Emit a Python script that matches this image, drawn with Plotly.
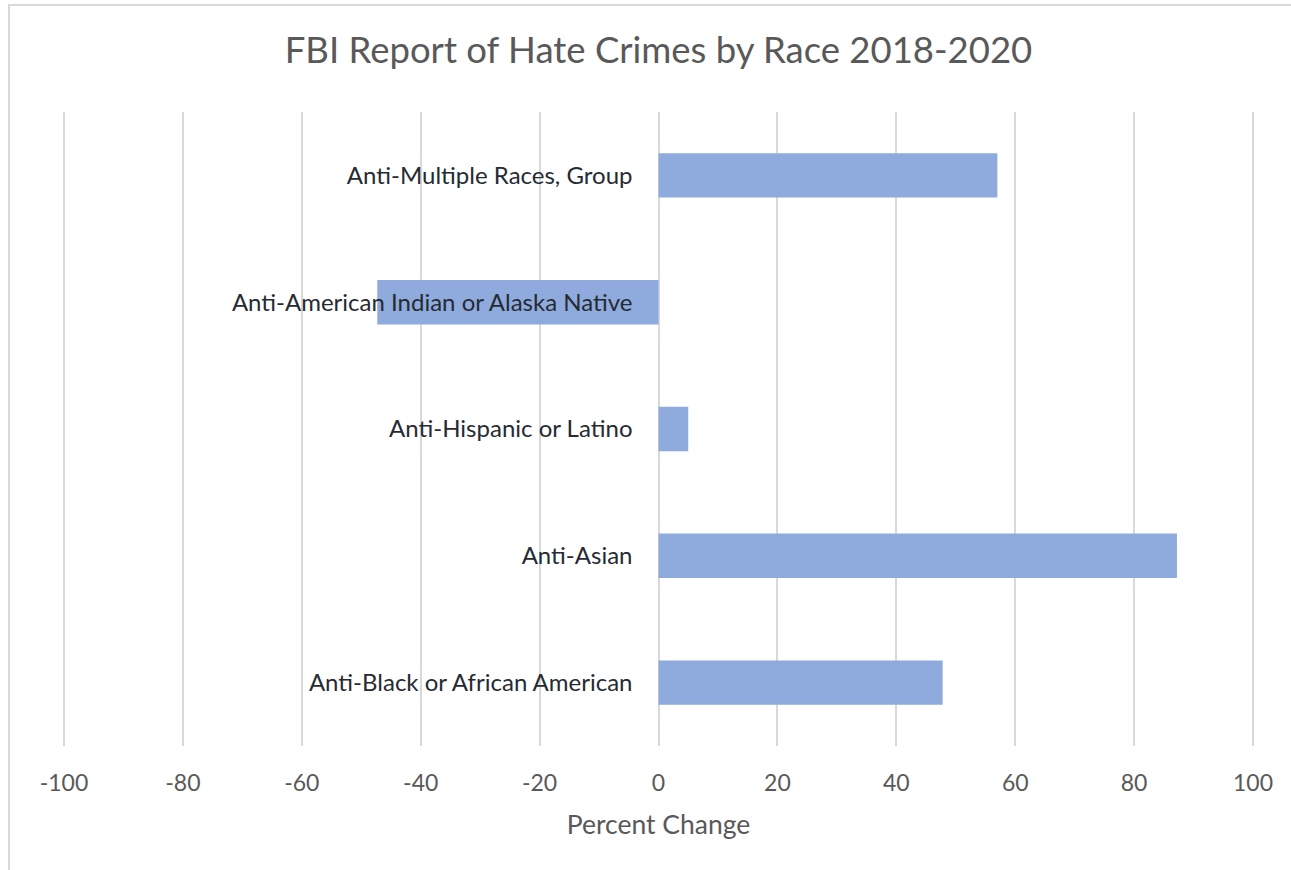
import plotly.graph_objects as go

categories = [
    "Anti-Black or African American",
    "Anti-Asian",
    "Anti-Hispanic or Latino",
    "Anti-American Indian or Alaska Native",
    "Anti-Multiple Races, Group",
]
percent_change = [47.8, 87.2, 5.0, -47.3, 57.0]
x_ticks = [-100, -80, -60, -40, -20, 0, 20, 40, 60, 80, 100]

fig = go.Figure()
fig.add_trace(go.Bar(
    x=percent_change,
    y=categories,
    orientation="h",
    marker=dict(color="#8faadc", line=dict(width=0)),
    hoverinfo="x+y",
))

W, H = 1291, 870
pad = 0.5  # small extension so the -100 / 100 grid lines are drawn
L, R, T, B = 61, 35, 112, 124

fig.update_layout(
    width=W, height=H,
    margin=dict(l=L, r=R, t=T, b=B),
    paper_bgcolor="white",
    plot_bgcolor="white",
    font=dict(family="Lato, Open Sans, sans-serif", color="#595959"),
    bargap=0.65,
    showlegend=False,
    title=dict(
        text="FBI Report of Hate Crimes by Race 2018-2020",
        font=dict(size=36.5, color="#595959"),
        x=0.5, xref="paper", xanchor="center",
        y=1 - 50 / H, yref="container", yanchor="middle",
    ),
    xaxis=dict(
        range=[-100 - pad, 100 + pad],
        tickvals=x_ticks,
        ticktext=[str(v) for v in x_ticks],
        showgrid=True, gridcolor="#d9d9d9", gridwidth=2,
        zeroline=False, showline=False, ticks="",
        tickfont=dict(size=23, color="#595959"),
        ticklabelstandoff=21,
        title=dict(text="Percent Change", font=dict(size=26.5, color="#595959"), standoff=20),
        fixedrange=True,
    ),
    yaxis=dict(
        type="category",
        categoryorder="array", categoryarray=categories,
        anchor="free", position=0.5,
        showgrid=False, zeroline=False, showline=False, ticks="",
        tickfont=dict(size=24, color="#262b33"),
        ticklabelstandoff=26,
        fixedrange=True,
    ),
    shapes=[dict(
        type="rect", xref="paper", yref="paper",
        x0=(9 - L) / (W - L - R), x1=1.5,
        y0=-0.5, y1=(H - B - 5) / (H - T - B),
        line=dict(color="#d9d9d9", width=2),
        fillcolor="rgba(0,0,0,0)",
        layer="below",
    )],
)

fig.write_html(
    "out.html",
    config={"displayModeBar": False},
    post_script="document.body.style.margin='0';document.body.style.overflow='hidden';",
)
